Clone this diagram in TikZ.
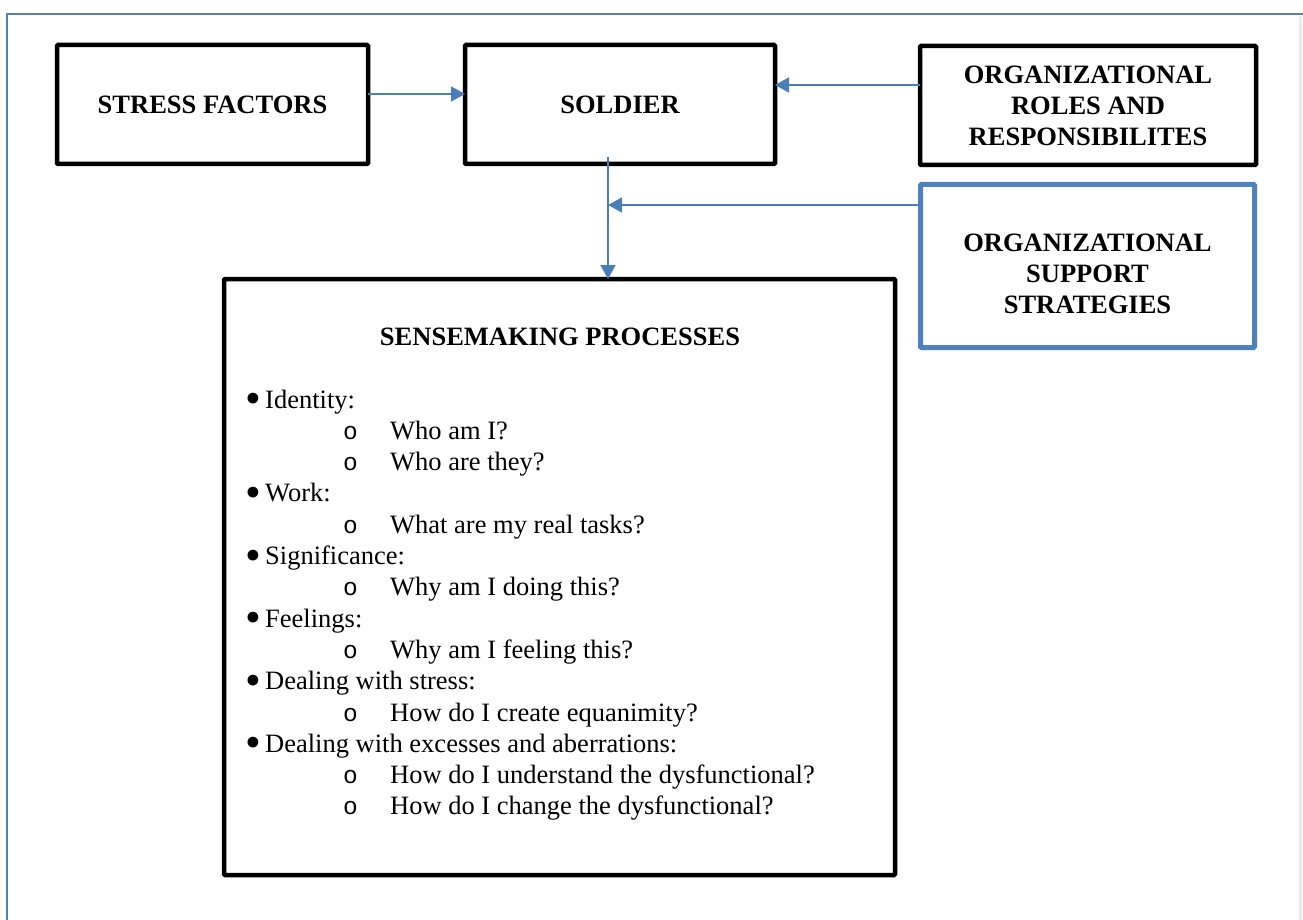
\documentclass[tikz,border=0pt]{standalone}
\usepackage{fontspec}
\setmainfont{Liberation Serif}
\newfontfamily\monofont{Liberation Mono}
\usetikzlibrary{arrows.meta}
\definecolor{wordblue}{RGB}{79,129,189}
\definecolor{arrblue}{RGB}{74,126,187}
\newcommand{\bigbul}{\makebox[20pt][l]{\raisebox{-5.5pt}{\scalebox{1.7}{\textbullet}}}}
\newcommand{\subbul}{\makebox[47pt][l]{\fontsize{24.5}{24}\monofont o}}
\begin{document}
\begin{tikzpicture}[x=1pt,y=-1pt,
  boxstyle/.style={draw=black, line width=4.5pt, rounded corners=1pt, outer sep=0pt, inner sep=0pt,
     align=center, font=\bfseries\fontsize{26.5}{31}\selectfont},
  bluebox/.style={boxstyle, draw=wordblue, line width=5pt},
  lblstyle/.style={inner sep=0pt, align=center, font=\bfseries\fontsize{26.5}{31}\selectfont},
  titlestyle/.style={anchor=base, inner sep=0pt, font=\bfseries\fontsize{26.5}{31}\selectfont},
  itemstyle/.style={anchor=base west, inner sep=0pt, font=\fontsize{26.5}{31}\selectfont},
  arr/.style={draw=arrblue, line width=1.8pt, -{Triangle[length=14pt,width=15pt]}}
]
\useasboundingbox (0,0) rectangle (1303,920);
% page frame
\draw[black!8, line width=3pt] (1300,16) -- (1300,920);
\draw[wordblue, line width=2pt] (7,920) -- (7,14) -- (1303,14);

% boxes
\node[boxstyle, minimum width=311pt, minimum height=119pt] (stress) at (212.5,104.5) {STRESS FACTORS};
\node[boxstyle, minimum width=310pt, minimum height=119pt] (soldier) at (620,104.5) {SOLDIER};
\node[boxstyle, minimum width=336pt, minimum height=119pt] (roles) at (1088,105.5) {ORGANIZATIONAL\\ROLES AND\\RESPONSIBILITES};
\node[bluebox, minimum width=334pt, minimum height=163pt] (support) at (1087.5,266) {};
\node[lblstyle] (supportlbl) at ([yshift=-8pt]support.center) {ORGANIZATIONAL\\SUPPORT\\STRATEGIES};
\node[boxstyle, minimum width=671pt, minimum height=596pt] (sense) at (559.5,577) {};

% content of sensemaking box
\node[titlestyle] (title) at (560,345) {SENSEMAKING PROCESSES};
\node[itemstyle] (i1) at (245,408) {\bigbul Identity:};
\node[itemstyle] (i2) at (343,439.3) {\subbul Who am I?};
\node[itemstyle] (i3) at (343,470.6) {\subbul Who are they?};
\node[itemstyle] (i4) at (245,501.9) {\bigbul Work:};
\node[itemstyle] (i5) at (343,533.2) {\subbul What are my real tasks?};
\node[itemstyle] (i6) at (245,564.5) {\bigbul Significance:};
\node[itemstyle] (i7) at (343,595.8) {\subbul Why am I doing this?};
\node[itemstyle] (i8) at (245,627.1) {\bigbul Feelings:};
\node[itemstyle] (i9) at (343,658.4) {\subbul Why am I feeling this?};
\node[itemstyle] (i10) at (245,689.7) {\bigbul Dealing with stress:};
\node[itemstyle] (i11) at (343,721) {\subbul How do I create equanimity?};
\node[itemstyle] (i12) at (245,752.3) {\bigbul Dealing with excesses and aberrations:};
\node[itemstyle] (i13) at (343,783.6) {\subbul How do I understand the dysfunctional?};
\node[itemstyle] (i14) at (343,814.9) {\subbul How do I change the dysfunctional?};

% connectors
\draw[arr] ([yshift=10.5pt]stress.east) -- ([yshift=10.5pt]stress.east -| soldier.west);
\draw[arr] ([yshift=20.5pt]roles.west) -- ([yshift=20.5pt]roles.west -| soldier.east);
\coordinate (vx) at ([xshift=-12pt,yshift=7pt]soldier.south);
\draw[arr] (vx) -- (vx |- sense.north);
\draw[arr] ([yshift=61pt]support.west) -- ([yshift=61pt]support.west -| vx);
\end{tikzpicture}
\end{document}
